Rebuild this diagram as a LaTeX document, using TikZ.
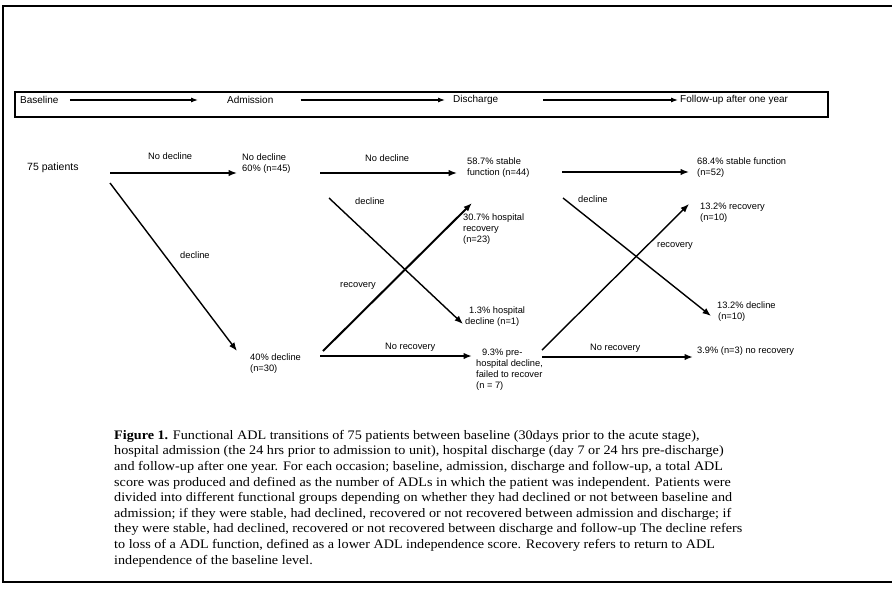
\documentclass[tikz,border=0pt]{standalone}
\usepackage{fontspec}
\setmainfont{Liberation Serif}
\newfontfamily\arial{Liberation Sans}
\newfontfamily\capfont[FakeStretch=1.09]{Liberation Serif}
\usetikzlibrary{arrows.meta}
\begin{document}
\begin{tikzpicture}[x=1pt,y=-1pt,
  lbl/.style={font=\arial\fontsize{9.3}{11}\selectfont, inner sep=0pt, anchor=west, align=left},
  hdr/.style={font=\arial\fontsize{10}{12}\selectfont, inner sep=0pt, anchor=west},
  tarr/.style={line width=1.1pt, -{Latex[length=7pt,width=5pt]}},
  arr/.style={line width=1.4pt, -{Latex[length=8.5pt,width=6.5pt]}},
  tarrow/.style={line width=2.6pt, -{Latex[length=8.5pt,width=6.5pt]}},
  frame/.style={line width=2pt}]
\useasboundingbox (0,0) rectangle (892,590);
% outer frame
\draw[frame] (892,6) -- (3,6) -- (3,582) -- (892,582);
% timeline
\draw[line width=2pt] (15,92) rectangle (828,117);
\node[hdr] (base) at (20,100) {Baseline};
\node[hdr] (adm) at (227,100) {Admission};
\node[hdr] (dis) at (453,100) {Discharge};
\node[hdr] (fol) at (680,100) {Follow-up after one year};
\draw[tarr] ([xshift=11pt]base.east) -- ([xshift=-29pt]adm.west);
\draw[tarr] ([xshift=27pt]adm.east) -- ([xshift=-8pt]dis.west);
\draw[tarr] ([xshift=45pt]dis.east) -- ([xshift=-2pt]fol.west);
% nodes
\node[lbl, font=\arial\fontsize{10.5}{12}\selectfont] (p75) at (27,168) {75 patients};
\node[lbl] (n45) at (242,164) {No decline\\60\% (n=45)};
\node[lbl] (s44) at (467,168) {58.7\% stable\\function (n=44)};
\node[lbl] (s52) at (697,168) {68.4\% stable function\\(n=52)};
\node[lbl] (d30) at (250,364) {40\% decline\\(n=30)};
\node[lbl] (r23) at (463,229.5) {30.7\% hospital\\recovery\\(n=23)};
\node[lbl] (d1) at (465,317) {\hspace*{4pt}1.3\% hospital\\decline (n=1)};
\node[lbl] (f7) at (476,370) {\hspace*{6pt}9.3\% pre-\\hospital decline,\\failed to recover\\(n = 7)};
\node[lbl] (r10) at (700,212.5) {13.2\% recovery\\(n=10)};
\node[lbl] (d10) at (717,311.5) {13.2\% decline\\\hspace*{1pt}(n=10)};
\node[lbl] (n3) at (697,351) {3.9\% (n=3) no recovery};
% edge labels
\node[lbl] (l1) at (148,156) {No decline};
\node[lbl] (l2) at (180,255) {decline};
\node[lbl] (l3) at (365,158) {No decline};
\node[lbl] (l4) at (355,201) {decline};
\node[lbl] (l5) at (340,286) {recovery};
\node[lbl] (l6) at (385,347) {No recovery};
\node[lbl] (l7) at (578,199) {decline};
\node[lbl] (l8) at (657,246) {recovery};
\node[lbl] (l9) at (590,348) {No recovery};
% connector end points
\coordinate (a1s) at (110,173); \coordinate (a1e) at (237,173);
\coordinate (a2s) at (110,183); \coordinate (a2e) at (237,351);
\coordinate (a3s) at (320,173); \coordinate (a3e) at (457,173);
\coordinate (a4s) at (329,198); \coordinate (a4e) at (463,324);
\coordinate (a5s) at (323,351); \coordinate (a5e) at (472,203);
\coordinate (a6s) at (320,356); \coordinate (a6e) at (472,356);
\coordinate (a7s) at (562,172); \coordinate (a7e) at (689,172);
\coordinate (a8s) at (563,198); \coordinate (a8e) at (711,316);
\coordinate (a9s) at (542,350); \coordinate (a9e) at (689,204);
\coordinate (a10s) at (542,357); \coordinate (a10e) at (693,357);
\draw[arr] (a1s) -- (a1e);
\draw[arr] (a2s) -- (a2e);
\draw[arr] (a3s) -- (a3e);
\draw[arr] (a4s) -- (a4e);
\draw[arr, line width=2pt] (a5s) -- (a5e);
\draw[tarrow] (a6s) -- (a6e);
\draw[arr] (a7s) -- (a7e);
\draw[arr] (a8s) -- (a8e);
\draw[arr] (a9s) -- (a9e);
\draw[tarrow] (a10s) -- (a10e);
% caption
\node[inner sep=0pt, anchor=north west, align=left, font=\capfont\fontsize{13}{15.6}\selectfont] (cap) at (114,430)
{\textbf{Figure 1.} Functional ADL transitions of 75 patients between baseline (30days prior to the acute stage),\\
hospital admission (the 24 hrs prior to admission to unit), hospital discharge (day 7 or 24 hrs pre-discharge)\\
and follow-up after one year. For each occasion; baseline, admission, discharge and follow-up, a total ADL\\
score was produced and defined as the number of ADLs in which the patient was independent. Patients were\\
divided into different functional groups depending on whether they had declined or not between baseline and\\
admission; if they were stable, had declined, recovered or not recovered between admission and discharge; if\\
they were stable, had declined, recovered or not recovered between discharge and follow-up The decline refers\\
to loss of a ADL function, defined as a lower ADL independence score. Recovery refers to return to ADL\\
independence of the baseline level.};
\end{tikzpicture}
\end{document}
